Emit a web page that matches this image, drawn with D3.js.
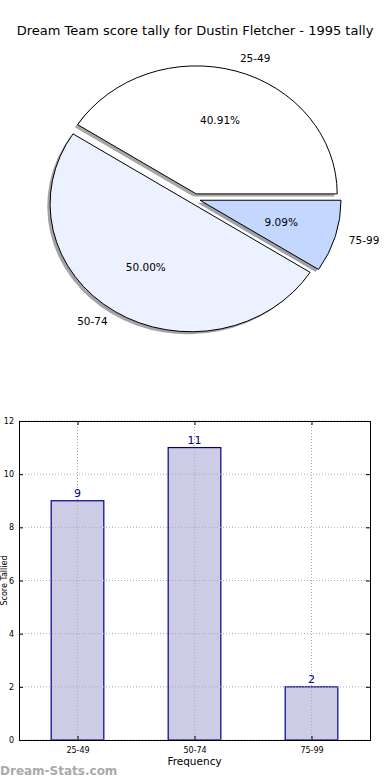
<!DOCTYPE html>
<html>
<head>
<meta charset="utf-8">
<script src="https://cdn.jsdelivr.net/npm/d3@7"></script>
<style>
    body { margin: 0; background: #fff; }
    svg { display: block; font-family: "DejaVu Sans", sans-serif; }
</style>
</head>
<body>
<svg id="chart" width="390" height="780"></svg>
<script>
const title = "Dream Team score tally for Dustin Fletcher - 1995 tally";
const categories = ["25-49", "50-74", "75-99"];
const counts = [9, 11, 2];
const pieColors = ["#ffffff", "#ebf1ff", "#c4d7ff"];
const yTicks = [0, 2, 4, 6, 8, 10, 12];

const svg = d3.select("#chart");

svg.append("text")
    .attr("x", 195)
    .attr("y", 35)
    .attr("text-anchor", "middle")
    .style("font-size", "13px")
    .text(title);

// ---- pie (matplotlib style: starts at 3 o'clock, counter clockwise, elliptical) ----
function drawPie() {
    const pie_area = { cx: 194.6, cy: 198.8, rx: 141, ry: 128, explode: 0.04 };
    const total = d3.sum(counts);

    // unit circle -> pixels
    const sx = d3.scaleLinear().domain([-1, 1]).range([pie_area.cx - pie_area.rx, pie_area.cx + pie_area.rx]);
    const sy = d3.scaleLinear().domain([-1, 1]).range([pie_area.cy + pie_area.ry, pie_area.cy - pie_area.ry]);

    let arcs = d3.pie().sort(null)
        .startAngle(Math.PI / 2)
        .endAngle(Math.PI / 2 - 2 * Math.PI)(counts);

    const arc = d3.arc().innerRadius(0).outerRadius(1);

    // d3 angle -> unit vector in data coords (y up)
    const dir = a => [Math.sin(a), Math.cos(a)];

    arcs.forEach((d, i) => {
        let mid = (d.startAngle + d.endAngle) / 2;
        let [ux, uy] = dir(mid);
        d.ox = pie_area.explode * ux;
        d.oy = pie_area.explode * uy;
        d.ux = ux;
        d.uy = uy;
        d.color = pieColors[i];
        d.label = categories[i];
    });

    const place = (dx, dy) => `translate(${sx(dx)}, ${sy(dy)}) scale(${pie_area.rx}, ${pie_area.ry})`;

    let g = svg.append("g");

    // shadows first
    g.selectAll(".shadow")
        .data(arcs)
        .enter()
        .append("path")
        .attr("d", arc)
        .attr("transform", d => place(d.ox - 0.02, d.oy - 0.02))
        .style("fill", d => {
            let c = d3.rgb(d.color);
            return d3.rgb(c.r * 0.3, c.g * 0.3, c.b * 0.3);
        })
        .style("fill-opacity", 0.5);

    g.selectAll(".wedge")
        .data(arcs)
        .enter()
        .append("path")
        .attr("d", arc)
        .attr("transform", d => place(d.ox, d.oy))
        .style("fill", d => d.color)
        .style("stroke", "#000")
        .style("stroke-width", 1)
        .attr("vector-effect", "non-scaling-stroke");

    g.selectAll(".label")
        .data(arcs)
        .enter()
        .append("text")
        .attr("x", d => sx(d.ox + 1.1 * d.ux))
        .attr("y", d => sy(d.oy + 1.1 * d.uy))
        .attr("dy", "0.35em")
        .attr("text-anchor", d => d.ux > 0 ? "start" : "end")
        .style("font-size", "10.5px")
        .text(d => d.label);

    g.selectAll(".pct")
        .data(arcs)
        .enter()
        .append("text")
        .attr("x", d => sx(d.ox + 0.6 * d.ux))
        .attr("y", d => sy(d.oy + 0.6 * d.uy))
        .attr("dy", "0.35em")
        .attr("text-anchor", "middle")
        .style("font-size", "10.5px")
        .text(d => (d.value / total * 100).toFixed(2) + "%");
}

// ---- bar chart ----
function drawBars() {
    const attr_area = { left: 19, right: 370, top: 421, bottom: 740 };
    const barWidth = 0.45;

    let scX = d3.scaleLinear().domain([-0.5, categories.length - 0.5]).range([attr_area.left, attr_area.right]);
    let scY = d3.scaleLinear().domain([0, 12]).range([attr_area.bottom, attr_area.top]);

    let g = svg.append("g");

    g.selectAll(".bar")
        .data(counts)
        .enter()
        .append("rect")
        .attr("x", (d, i) => scX(i - barWidth / 2))
        .attr("y", d => scY(d))
        .attr("width", (d, i) => scX(i + barWidth / 2) - scX(i - barWidth / 2))
        .attr("height", d => scY(0) - scY(d))
        .style("fill", "#ccccE6")
        .style("stroke", "#000080")
        .style("stroke-width", 1.2);

    // grid (on top of bars, as in the original)
    g.selectAll(".gridY")
        .data(yTicks)
        .enter()
        .append("line")
        .attr("x1", attr_area.left)
        .attr("x2", attr_area.right)
        .attr("y1", d => scY(d))
        .attr("y2", d => scY(d))
        .style("stroke", "#aaa")
        .style("stroke-dasharray", "1,2");

    g.selectAll(".gridX")
        .data(categories)
        .enter()
        .append("line")
        .attr("x1", (d, i) => scX(i))
        .attr("x2", (d, i) => scX(i))
        .attr("y1", attr_area.top)
        .attr("y2", attr_area.bottom)
        .style("stroke", "#aaa")
        .style("stroke-dasharray", "1,2");

    g.selectAll(".val")
        .data(counts)
        .enter()
        .append("text")
        .attr("x", (d, i) => scX(i))
        .attr("y", d => scY(d) - 4)
        .attr("text-anchor", "middle")
        .style("font-size", "11px")
        .style("fill", "#000080")
        .text(d => d);

    // axes with inner ticks on all sides
    let axL = d3.axisLeft(scY).tickValues(yTicks).tickSize(-4).tickPadding(5);
    let axR = d3.axisRight(scY).tickValues(yTicks).tickSize(-4).tickFormat("");
    let axB = d3.axisBottom(scX).tickValues(d3.range(categories.length)).tickSize(-4).tickPadding(7)
        .tickFormat(i => categories[i]);
    let axT = d3.axisTop(scX).tickValues(d3.range(categories.length)).tickSize(-4).tickFormat("");

    [[axL, `translate(${attr_area.left},0)`], [axR, `translate(${attr_area.right},0)`],
     [axB, `translate(0,${attr_area.bottom})`], [axT, `translate(0,${attr_area.top})`]].forEach(([ax, tr]) => {
        let a = g.append("g").attr("transform", tr).call(ax);
        a.select(".domain").attr("stroke", "#000");
        a.selectAll("text").style("font-size", "8px").style("font-family", "DejaVu Sans");
    });

    svg.append("text")
        .attr("x", (attr_area.left + attr_area.right) / 2)
        .attr("y", 765)
        .attr("text-anchor", "middle")
        .style("font-size", "10.5px")
        .text("Frequency");

    svg.append("text")
        .attr("transform", `translate(6.5, ${(attr_area.top + attr_area.bottom) / 2}) rotate(-90)`)
        .attr("text-anchor", "middle")
        .style("font-size", "8px")
        .text("Score Tallied");

    svg.append("text")
        .attr("x", 0)
        .attr("y", 775)
        .style("font-size", "12px")
        .style("font-weight", "bold")
        .style("fill", "#aaa")
        .text("Dream-Stats.com");
}

drawPie();
drawBars();
</script>
</body>
</html>
